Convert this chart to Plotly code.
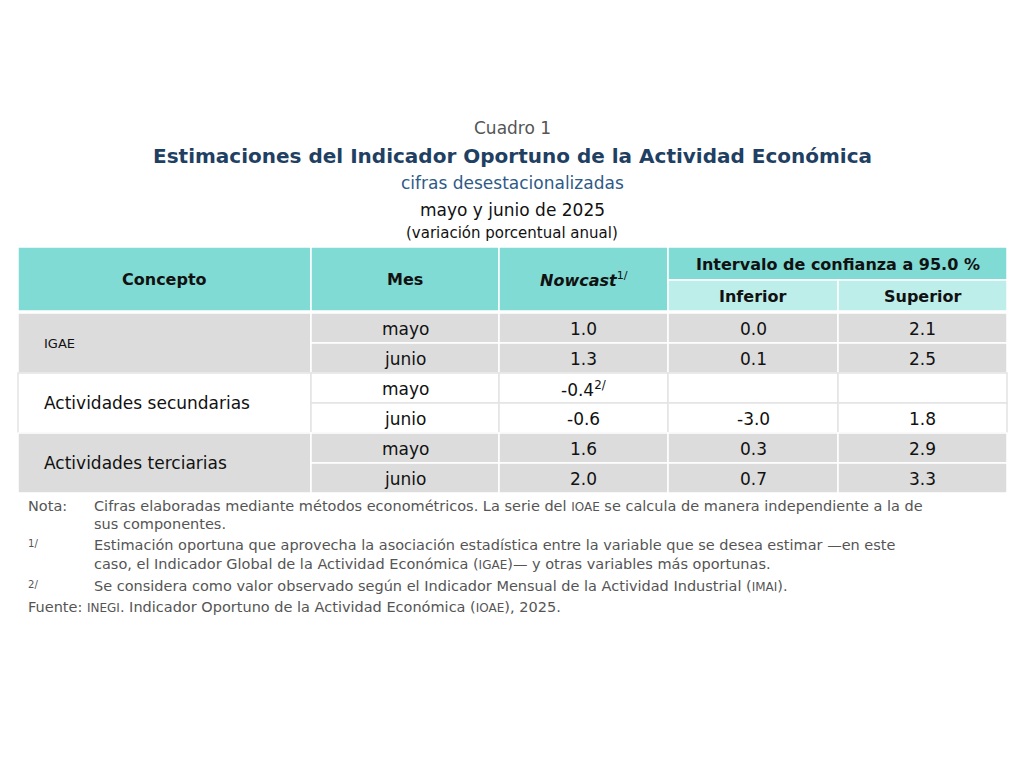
import plotly.graph_objects as go

conceptos = ["IGAE", "Actividades secundarias", "Actividades terciarias"]
meses = ["mayo", "junio"]
nowcast = ["1.0", "1.3", "-0.4", "-0.6", "1.6", "2.0"]
inferior = ["0.0", "0.1", "", "-3.0", "0.3", "0.7"]
superior = ["2.1", "2.5", "", "1.8", "2.9", "3.3"]

cols = [18, 311, 499, 668, 838, 1007]
row_top = 313
row_h = 30
TEAL = "#80dbd4"
TEAL2 = "#bdeeea"
GRAY = "#dcdcdc"
FONT = "DejaVu Sans, Arial"

fig = go.Figure()
shapes = []
ann = []

def rect(x0, y0, x1, y1, fill, line="white", w=1.5):
    shapes.append(dict(type="rect", xref="x", yref="y", x0=x0, y0=y0, x1=x1, y1=y1,
                       fillcolor=fill, line=dict(color=line, width=w), layer="below"))

def text(x, y, s, size=15, color="#111", bold=False, anchor="center"):
    if not s:
        return
    if bold:
        s = "<b>" + s + "</b>"
    ann.append(dict(x=x, y=y, xref="x", yref="y", text=s, showarrow=False,
                    xanchor=anchor, yanchor="middle",
                    font=dict(size=size, color=color, family=FONT)))

# titles
text(512, 128, "Cuadro 1", 17, "#555")
text(512, 156, "Estimaciones del Indicador Oportuno de la Actividad Económica", 20, "#1f3f63", bold=True)
text(512, 183, "cifras desestacionalizadas", 17, "#2e5a87")
text(512, 210, "mayo y junio de 2025", 17, "#111")
text(512, 233, "(variación porcentual anual)", 15, "#111")

# header
rect(cols[0], 247, cols[1], 311, TEAL)
rect(cols[1], 247, cols[2], 311, TEAL)
rect(cols[2], 247, cols[3], 311, TEAL)
rect(cols[3], 247, cols[5], 280, TEAL)
rect(cols[3], 280, cols[4], 311, TEAL2)
rect(cols[4], 280, cols[5], 311, TEAL2)
text((cols[0] + cols[1]) / 2, 279, "Concepto", 16, bold=True)
text((cols[1] + cols[2]) / 2, 279, "Mes", 16, bold=True)
text((cols[2] + cols[3]) / 2, 279, "<b><i>Nowcast</i></b><sup>1/</sup>", 16)
text((cols[3] + cols[5]) / 2, 264, "Intervalo de confianza a 95.0 %", 16, bold=True)
text((cols[3] + cols[4]) / 2, 296, "Inferior", 16, bold=True)
text((cols[4] + cols[5]) / 2, 296, "Superior", 16, bold=True)

# body
for g, concepto in enumerate(conceptos):
    fill = GRAY if g != 1 else "white"
    line = "white" if g != 1 else "#e4e4e4"
    y0 = row_top + g * 2 * row_h
    rect(cols[0], y0, cols[1], y0 + 2 * row_h, fill, line)
    text(cols[0] + 24, y0 + row_h, concepto, 13 if g == 0 else 17, anchor="left")
    for m, mes in enumerate(meses):
        i = g * 2 + m
        ry = y0 + m * row_h
        vals = [mes, nowcast[i] + ("<sup>2/</sup>" if i == 2 else ""), inferior[i], superior[i]]
        for c in range(4):
            rect(cols[c + 1], ry, cols[c + 2], ry + row_h, fill, line)
            text((cols[c + 1] + cols[c + 2]) / 2, ry + row_h / 2 + 1, vals[c], 17)

# notes
NC = "#555"
sm = "<span style='font-size:12px'>%s</span>"
notes = [
    (26, 506, "Nota:"),
    (92, 506, "Cifras elaboradas mediante métodos econométricos. La serie del " + sm % "IOAE" + " se calcula de manera independiente a la de"),
    (92, 524, "sus componentes."),
    (26, 543, "<sup>1/</sup>"),
    (92, 545, "Estimación oportuna que aprovecha la asociación estadística entre la variable que se desea estimar —en este"),
    (92, 564, "caso, el Indicador Global de la Actividad Económica (" + sm % "IGAE" + ")— y otras variables más oportunas."),
    (26, 584, "<sup>2/</sup>"),
    (92, 586, "Se considera como valor observado según el Indicador Mensual de la Actividad Industrial (" + sm % "IMAI" + ")."),
    (26, 607, "Fuente: " + sm % "INEGI" + ". Indicador Oportuno de la Actividad Económica (" + sm % "IOAE" + "), 2025."),
]
for x, y, s in notes:
    text(x, y, s, 14.5, NC, anchor="left")

# compensate 8px page margin
fig.update_layout(
    width=1024, height=768, margin=dict(l=0, r=0, t=0, b=0),
    paper_bgcolor="white", plot_bgcolor="white",
    xaxis=dict(range=[8, 1032], visible=False, fixedrange=True),
    yaxis=dict(range=[776, 8], visible=False, fixedrange=True),
    shapes=shapes, annotations=ann, showlegend=False,
)
fig.write_html("out.html")
